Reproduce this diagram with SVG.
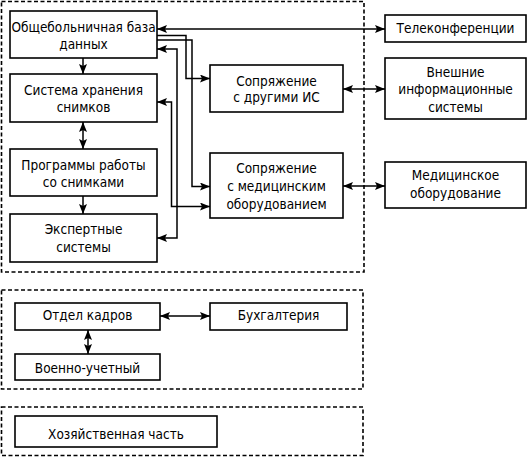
<svg xmlns="http://www.w3.org/2000/svg" width="531" height="457" viewBox="0 0 531 457">
<style>
.grp{fill:none;stroke:#000;stroke-width:1.6;stroke-dasharray:4 2.5}
.box{fill:#fff;stroke:#000;stroke-width:1.6}
text{font-family:"Liberation Sans Narrow","DejaVu Sans Condensed","Liberation Sans",sans-serif;font-size:13.5px;fill:#000;text-anchor:middle}
.c{fill:none;stroke:#000;stroke-width:1.5}
.a{marker-end:url(#ah)}
.b{marker-start:url(#ah);marker-end:url(#ah)}
</style>
<defs>
<marker id="ah" markerUnits="userSpaceOnUse" markerWidth="11" markerHeight="9" refX="10" refY="4" orient="auto-start-reverse">
<path d="M0,0 L10,4 L0,8 L2,4 z" fill="#000"/>
</marker>
</defs>
<rect width="531" height="457" fill="#fff"/>
<g id="groups">
<rect class="grp" x="1.5" y="1.5" width="362.5" height="270.5"/>
<rect class="grp" x="1.5" y="290" width="361.5" height="99"/>
<rect class="grp" x="1.5" y="407" width="361.5" height="48.5"/>
</g>
<g id="connectors">
<line class="c b" x1="157" y1="29" x2="385" y2="29"/>
<line class="c b" x1="343" y1="89" x2="385" y2="89"/>
<line class="c b" x1="343" y1="186" x2="385" y2="186"/>
<line class="c a" x1="83" y1="58" x2="83" y2="74"/>
<line class="c b" x1="83" y1="122" x2="83" y2="149"/>
<line class="c a" x1="83" y1="196" x2="83" y2="214"/>
<path class="c a" d="M157,35.5 H186 V78.5 H210"/>
<path class="c a" d="M157,40 H192 V186.5 H210"/>
<path class="c b" d="M157,49 H177 V238 H157"/>
<path class="c b" d="M157,102 H171.5 V206.5 H210"/>
<line class="c b" x1="160" y1="316" x2="210" y2="316"/>
<line class="c b" x1="88" y1="330" x2="88" y2="354"/>
</g>
<g id="n-obsh"><rect class="box" x="10" y="11" width="147" height="47"/><text x="83.5" y="32">Общебольничная база</text><text x="83.5" y="49">данных</text></g>
<g id="n-hran"><rect class="box" x="10" y="74" width="147" height="48"/><text x="83.5" y="95">Система хранения</text><text x="83.5" y="112">снимков</text></g>
<g id="n-prog"><rect class="box" x="10" y="149" width="147" height="47"/><text x="83.5" y="170">Программы работы</text><text x="83.5" y="187">со снимками</text></g>
<g id="n-exp"><rect class="box" x="10" y="214" width="147" height="48"/><text x="83.5" y="234">Экспертные</text><text x="83.5" y="252">системы</text></g>
<g id="n-is"><rect class="box" x="210" y="65" width="133" height="47"/><text x="276.5" y="86">Сопряжение</text><text x="276.5" y="102">с другими ИС</text></g>
<g id="n-med"><rect class="box" x="210" y="153" width="133" height="65"/><text x="276.5" y="173">Сопряжение</text><text x="276.5" y="191">с медицинским</text><text x="276.5" y="209">оборудованием</text></g>
<g id="n-tele"><rect class="box" x="385" y="15" width="141" height="27"/><text x="455.5" y="33">Телеконференции</text></g>
<g id="n-ext"><rect class="box" x="385" y="58" width="141" height="61"/><text x="455.5" y="77">Внешние</text><text x="455.5" y="94">информационные</text><text x="455.5" y="112">системы</text></g>
<g id="n-medob"><rect class="box" x="385" y="162" width="141" height="46"/><text x="455.5" y="180">Медицинское</text><text x="455.5" y="198">оборудование</text></g>
<g id="n-kadr"><rect class="box" x="15" y="303" width="145" height="27"/><text x="87.5" y="320">Отдел кадров</text></g>
<g id="n-buh"><rect class="box" x="210" y="303" width="137" height="27"/><text x="278.5" y="320">Бухгалтерия</text></g>
<g id="n-voen"><rect class="box" x="15" y="354" width="145" height="26"/><text x="87.5" y="373">Военно-учетный</text></g>
<g id="n-hoz"><rect class="box" x="15" y="416" width="202" height="31"/><text x="116" y="439">Хозяйственная часть</text></g>
</svg>
